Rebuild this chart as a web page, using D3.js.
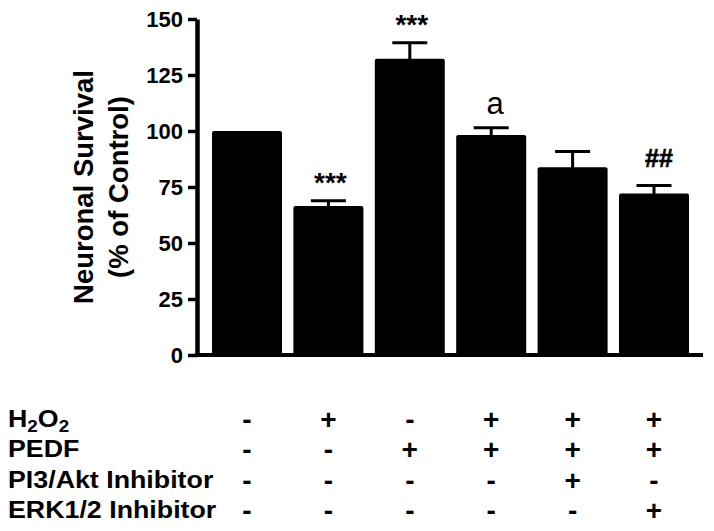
<!DOCTYPE html>
<html>
<head>
<meta charset="utf-8">
<script src="https://cdn.jsdelivr.net/npm/d3@7"></script>
<style>
  html, body { margin: 0; padding: 0; background: #fff; }
  svg { display: block; }
  text { font-family: "Liberation Sans", Arial, Helvetica, sans-serif; fill: #000; }
</style>
</head>
<body>
<svg id="chart" width="714" height="531"></svg>
<script>
// ---- data ----
const groups = ["Control", "H2O2", "PEDF", "H2O2+PEDF", "H2O2+PEDF+PI3K", "H2O2+PEDF+ERK"];
const values = [100, 66.5, 132.3, 98.2, 83.8, 72.1];
const errors = [0, 2.4, 7.1, 3.3, 7.0, 3.6];
const annotations = ["", "***", "***", "a", "", "##"];
const yTicks = [0, 25, 50, 75, 100, 125, 150];
const yTitle = ["Neuronal Survival", "(% of Control)"];
const rowLabels = ["H2O2", "PEDF", "PI3/Akt Inhibitor", "ERK1/2 Inhibitor"];
const rowH2O2 = ["-", "+", "-", "+", "+", "+"];
const rowPEDF = ["-", "-", "+", "+", "+", "+"];
const rowPI3K = ["-", "-", "-", "-", "+", "-"];
const rowERK  = ["-", "-", "-", "-", "-", "+"];
const signRows = [rowH2O2, rowPEDF, rowPI3K, rowERK];

// ---- layout ----
const svg = d3.select("#chart");
const axisX = 197, axisTop = 19, axisBottom = 355, axisRight = 703;

const x = d3.scaleBand().domain(groups).range([212, 689]).paddingInner(0.14).paddingOuter(0);
const y = d3.scaleLinear().domain([0, 150]).range([axisBottom, axisTop]);

// bars
svg.append("g").selectAll("rect").data(groups).join("rect")
  .attr("x", d => x(d))
  .attr("y", (d, i) => y(values[i]))
  .attr("width", x.bandwidth())
  .attr("height", (d, i) => y(0) - y(values[i]))
  .attr("rx", 2)
  .attr("fill", "#000");

// error bars
const eg = svg.append("g").attr("stroke", "#000").attr("stroke-width", 3);
groups.forEach((g, i) => {
  if (!errors[i]) return;
  const cx = x(g) + x.bandwidth() / 2;
  const top = y(values[i] + errors[i]);
  eg.append("line").attr("x1", cx).attr("x2", cx).attr("y1", y(values[i]) + 2).attr("y2", top);
  eg.append("line").attr("x1", cx - 17.5).attr("x2", cx + 17.5).attr("y1", top).attr("y2", top);
});

// annotations
const annStyle = {
  "***": { size: 28, weight: "bold", gap: 9, dx: 2 },
  "a":   { size: 31, weight: "normal", gap: 14, dx: 4 },
  "##":  { size: 25, weight: "bold", gap: 18, dx: 5 }
};
groups.forEach((g, i) => {
  const a = annotations[i];
  if (!a) return;
  const s = annStyle[a];
  const cx = x(g) + x.bandwidth() / 2;
  svg.append("text")
    .attr("x", cx + s.dx)
    .attr("y", y(values[i] + errors[i]) - s.gap)
    .attr("text-anchor", "middle")
    .attr("font-size", s.size)
    .attr("font-weight", s.weight)
    .attr("stroke", a === "##" ? "#000" : "none")
    .attr("stroke-width", a === "##" ? 0.6 : 0)
    .text(a);
});

// y axis
const yAxis = svg.append("g")
  .attr("transform", `translate(${axisX},0)`)
  .call(d3.axisLeft(y).tickValues(yTicks).tickSize(9).tickSizeOuter(0).tickPadding(5));
yAxis.select(".domain").attr("stroke", "#000").attr("stroke-width", 4.5);
yAxis.selectAll(".tick line").attr("stroke", "#000").attr("stroke-width", 3.5);
yAxis.selectAll(".tick text")
  .attr("font-size", 22).attr("font-weight", "bold")
  .attr("font-family", "'Liberation Sans', Arial, sans-serif")
  .attr("fill", "#000");

// x axis baseline
svg.append("line")
  .attr("x1", axisX - 2).attr("x2", axisRight)
  .attr("y1", y(0)).attr("y2", y(0))
  .attr("stroke", "#000").attr("stroke-width", 4);

// y title
const titleX = [93, 128];
yTitle.forEach((t, i) => {
  svg.append("text")
    .attr("transform", `translate(${titleX[i]},${(axisTop + axisBottom) / 2}) rotate(-90)`)
    .attr("text-anchor", "middle")
    .attr("font-size", 27.5)
    .attr("font-weight", "bold")
    .text(t);
});

// condition table
const rowBase = [427, 457, 488, 518];
const lg = svg.append("g").attr("transform", "translate(8,0) scale(1.14,1)");
rowLabels.forEach((lab, r) => {
  const t = lg.append("text")
    .attr("x", 0).attr("y", rowBase[r])
    .attr("font-size", 23.5).attr("font-weight", "bold");
  if (lab === "H2O2") {
    t.append("tspan").text("H");
    t.append("tspan").attr("font-size", 16.5).attr("dy", 5).text("2");
    t.append("tspan").attr("dy", -5).text("O");
    t.append("tspan").attr("font-size", 16.5).attr("dy", 5).text("2");
  } else {
    t.text(lab);
  }
});

signRows.forEach((row, r) => {
  svg.append("g").selectAll("text").data(groups).join("text")
    .attr("x", d => x(d) + x.bandwidth() / 2)
    .attr("y", rowBase[r] + 1.5)
    .attr("text-anchor", "middle")
    .attr("font-size", 28)
    .attr("font-weight", "bold")
    .text((d, i) => row[i]);
});
</script>
</body>
</html>
